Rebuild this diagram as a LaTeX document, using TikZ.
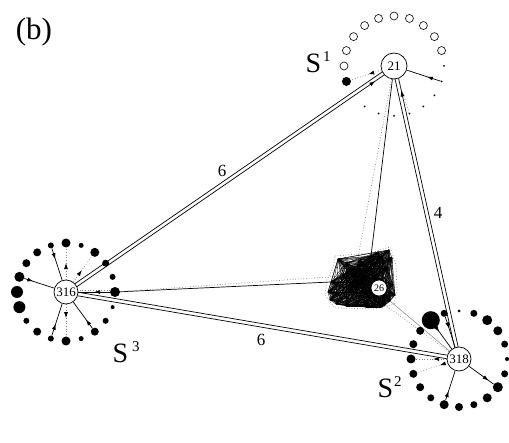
\documentclass[tikz,border=0pt]{standalone}
\usepackage{fontspec}
\setmainfont{Liberation Serif}
\usetikzlibrary{calc, arrows.meta, decorations.markings}
\pgfdeclarelayer{edges}
\pgfsetlayers{edges,main}
\tikzset{
  vertex/.style={circle, draw, fill=white, inner sep=0pt, minimum size=24pt, line width=0.7pt, font=\fontsize{13}{13}\selectfont},
  dot/.style={circle, fill=black, inner sep=0pt, minimum size=#1},
  hollow/.style={circle, draw, fill=white, inner sep=0pt, minimum size=8pt, line width=0.6pt},
  link/.style={line width=0.7pt},
  faint/.style={dotted, gray, line width=0.7pt},
  hair/.style={line width=0.35pt},
  headat/.style={postaction={decorate, decoration={markings, mark=at position #1 with {\arrow[black]{Latex[length=6pt,width=4pt]}}}}},
  elabel/.style={font=\fontsize{17}{17}\selectfont},
  setlabel/.style={anchor=base west, font=\fontsize{28}{28}\selectfont}
}
\newcommand{\setname}[2]{S\kern#2pt\raisebox{11pt}{\fontsize{15}{15}\selectfont #1}}

\begin{document}
\begin{tikzpicture}[x=1pt,y=-1pt]
\useasboundingbox (0,0) rectangle (509,443);

% the three hubs
\node[vertex, minimum size=26pt] (n21) at (394,66) {21};
\node[vertex] (n316) at (66,292) {316};
\node[vertex] (n318) at (459,359) {318};

% rings of satellites
\foreach \k/\s in {0/10,1/4,2/6,3/8,4/5,5/9,6/6,7/8,8/6,9/12,10/12,11/10,12/8,13/8,14/6,15/9,16/5,17/9,18/7,19/6}
  \node[dot=\s pt] (a\k) at ($(n316)+({18*\k}:49)$) {};
\foreach \k/\s in {0/4,1/7,2/10,3/9,4/7,5/8,6/9,7/7,8/8,9/8,10/9,11/8,12/8,13/18,14/7,15/3,16/7,17/10,18/9,19/7}
  \node[dot=\s pt] (b\k) at ($(n318)+({18*\k}:48)$) {};
\foreach \k in {0,...,7}
  \node[dot=2pt] (d\k) at ($(n21)+({18*\k}:50)$) {};
\node[dot=9pt] (d9) at ($(n21)+(162:50)$) {};
\foreach \k in {10,...,19}
  \node[hollow] (d\k) at ($(n21)+({18*\k}:50)$) {};

% dense core around 26
\foreach \x/\y [count=\i] in {338/259,356/268,371/256,382/256,389/250,388/268,393/285,390/301,374/306,356/306,336/304,328/292,331/282,342/276,362/282,377/278,385/305,346/263,360/260,378/252,392/258,395/295,382/307,366/307,346/306,330/300,352/272,350/290,368/296,384/292,355/280,370/268}
  \coordinate (c\i) at (\x,\y);
\node[vertex, minimum size=16pt, font=\fontsize{10}{10}\selectfont] (n26) at (379,288) {26};

\begin{pgfonlayer}{edges}
  \foreach \i in {1,...,32}
    \foreach \j in {\i,...,32}
      \draw[hair] (c\i) -- (c\j);
  \draw[faint] (335,256) -- (370,253) -- (390,247) -- (396,265) -- (397,290) -- (394,304) -- (375,309) -- (335,308) -- (325,295) -- (327,280) -- (333,268) -- cycle;

  % double links between hubs
  \draw[link] ($(n316)!1.8pt!90:(n21)$) -- ($(n21)!1.8pt!-90:(n316)$);
  \draw[link, headat=0.94] ($(n316)!1.8pt!-90:(n21)$) -- ($(n21)!1.8pt!90:(n316)$);
  \draw[link] ($(n318)!1.8pt!90:(n21)$) -- ($(n21)!1.8pt!-90:(n318)$);
  \draw[link, headat=0.915] ($(n318)!1.8pt!-90:(n21)$) -- ($(n21)!1.8pt!90:(n318)$);
  \draw[link] ($(n316)!1.8pt!90:(n318)$) -- ($(n318)!1.8pt!-90:(n316)$);
  \draw[link] ($(n316)!1.8pt!-90:(n318)$) -- ($(n318)!1.8pt!90:(n316)$);

  % links into the core
  \draw[link] (a0) -- (c13);
  \draw[faint] (a0) -- (c14);
  \draw[link] (n21) -- (c3);
  \draw[faint] (n21) -- (c2);
  \draw[gray, line width=0.5pt] (c8) -- (n318);
  \draw[faint] (c17) -- (n318);

  % around 316
  \draw[link, headat=0.34] (a14) -- (n316);
  \draw[faint, headat=0.52] (n316) -- (a15);
  \draw[faint, headat=0.46] (n316) -- (a17);
  \draw[link, headat=0.3] (a11) -- (n316);
  \draw[faint, headat=0.43] (n316) -- (a5);
  \draw[link, headat=0.37] (a6) -- (n316);
  \draw[link, headat=0.33] (a3) -- (n316);
  \draw[link, headat=0.5] (a0) -- (n316);
  \draw[faint] ($(n316)!1.5pt!90:(a0)$) -- ($(a0)!1.5pt!-90:(n316)$);

  % around 21
  \draw[faint, headat=0.43] (n21) -- (d9);
  \draw[link, headat=0.4] (d1) -- (n21);
  \draw[faint] (n21) -- (d4);

  % around 318
  \draw[faint, headat=0.44] (n318) -- (b10);
  \draw[faint, headat=0.25] (n318) -- (b9);
  \draw[link, headat=0.31] (b6) -- (n318);
  \draw[link, headat=0.8] (n318) -- (b2);
  \draw[link, headat=0.38] (b14) -- (n318);
  \draw[link, headat=0.2] (b13) -- (n318);
\end{pgfonlayer}

% labels
\node[font=\fontsize{31}{31}\selectfont] (tag) at (34,32) {(b)};
\node[elabel] (w1) at (222,171) {6};
\node[elabel] (w2) at (261,340) {6};
\node[elabel] (w3) at (438,213) {4};
\node[setlabel] (s1) at (302,73) {\setname{1}{2}};
\node[setlabel] (s3) at (109,363) {\setname{3}{4}};
\node[setlabel] (s2) at (374,398) {\setname{2}{1}};
\end{tikzpicture}
\end{document}
